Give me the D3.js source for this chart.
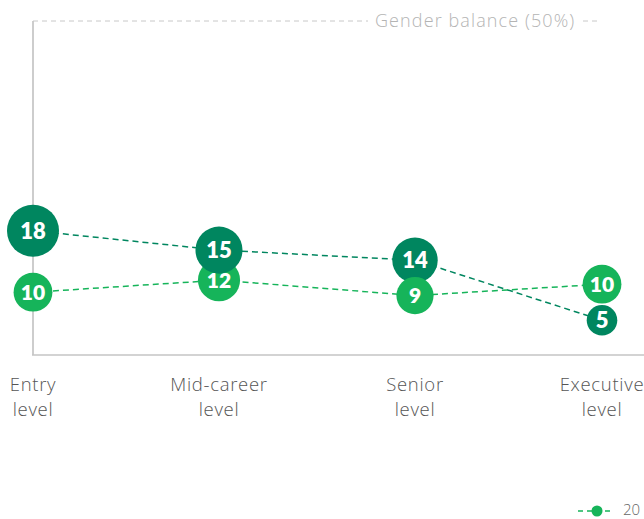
<!DOCTYPE html>
<html>
<head>
<meta charset="utf-8">
<script src="https://cdn.jsdelivr.net/npm/d3@7/dist/d3.min.js"></script>
<style>
  html, body { margin: 0; padding: 0; background: #fff; }
  svg { display: block; }
</style>
</head>
<body>
<svg id="chart" width="644" height="519"></svg>
<script>
// ---- data ----
const categories = ["Entry level", "Mid-career level", "Senior level", "Executive level"];
const darkPlotted = [18.6, 15.7, 14.2, 5.2];
const darkLabels = [18, 15, 14, 5];
const lightPlotted = [9.4, 11.2, 8.9, 10.6];
const lightLabels = [10, 12, 9, 10];
const balanceValue = 50;
const balanceLabel = "Gender balance (50%)";
const legendLabel = "20";

// ---- styles ----
const darkColor = "#00865f";
const lightColor = "#16b45a";
const front = ["dark", "dark", "light", "light"];

const svg = d3.select("#chart");
const x = d3.scaleOrdinal().domain(categories).range([33, 219, 415, 602]);
const y = d3.scaleLinear().domain([0, 50]).range([355, 21]);
const r = d3.scaleLinear().domain([5, 18]).range([15.3, 26]);

// axes lines
svg.append("line").attr("x1", 33).attr("x2", 33).attr("y1", y(balanceValue)).attr("y2", y(0))
  .attr("stroke", "#bdbdbd").attr("stroke-width", 1.5);
svg.append("line").attr("x1", 32).attr("x2", 644).attr("y1", y(0)).attr("y2", y(0))
  .attr("stroke", "#c4c4c4").attr("stroke-width", 1.5);

// gender balance line
svg.append("line").attr("x1", 33).attr("x2", 368).attr("y1", y(balanceValue)).attr("y2", y(balanceValue))
  .attr("stroke", "#c8c8c8").attr("stroke-width", 1).attr("stroke-dasharray", "5,4");
svg.append("line").attr("x1", 583).attr("x2", 600).attr("y1", y(balanceValue)).attr("y2", y(balanceValue))
  .attr("stroke", "#c8c8c8").attr("stroke-width", 1).attr("stroke-dasharray", "5,4");
svg.append("text").attr("x", 375).attr("y", y(balanceValue) + 6)
  .attr("font-family", "Open Sans, sans-serif").attr("font-size", 18).attr("font-weight", 300)
  .attr("letter-spacing", 1.1)
  .attr("fill", "#b4b4b4").text(balanceLabel);

// category labels
const catG = svg.append("g");
categories.forEach(c => {
  const parts = c.split(" ");
  const line1 = parts.slice(0, parts.length - 1).join(" ");
  const line2 = parts[parts.length - 1];
  const t = catG.append("text").attr("text-anchor", "middle")
    .attr("font-family", "Open Sans, sans-serif").attr("font-size", 18.5).attr("font-weight", 300)
    .attr("letter-spacing", 0.7)
    .attr("fill", "#555");
  t.append("tspan").attr("x", x(c)).attr("y", 391).text(line1);
  t.append("tspan").attr("x", x(c)).attr("y", 416).text(line2);
});

const series = [
  { key: "dark", plotted: darkPlotted, labels: darkLabels, color: darkColor },
  { key: "light", plotted: lightPlotted, labels: lightLabels, color: lightColor }
];

const line = d3.line().x((d, i) => x(categories[i])).y(d => y(d));
series.forEach(s => {
  svg.append("path").datum(s.plotted).attr("d", line)
    .attr("fill", "none").attr("stroke", s.color).attr("stroke-width", 1.5)
    .attr("stroke-dasharray", "6,4");
});

// points
const points = [];
series.forEach(s => s.plotted.forEach((v, i) => points.push({
  key: s.key, cat: categories[i], i, v, label: s.labels[i], color: s.color
})));
points.sort((a, b) => (front[a.i] === a.key ? 1 : 0) - (front[b.i] === b.key ? 1 : 0));

const pg = svg.selectAll("g.pt").data(points).join("g").attr("class", "pt")
  .attr("transform", d => `translate(${x(d.cat)},${y(d.v)})`);
pg.append("circle").attr("r", d => r(d.label)).attr("fill", d => d.color);
pg.append("text").attr("text-anchor", "middle").attr("dy", "0.36em")
  .attr("font-family", "Lato, sans-serif").attr("font-weight", 800)
  .attr("font-size", d => d.key === "dark" ? 22 : 21)
  .attr("fill", "#fff").text(d => d.label);

// legend
const lg = svg.append("g");
lg.append("line").attr("x1", 578).attr("x2", 613).attr("y1", 511).attr("y2", 511)
  .attr("stroke", lightColor).attr("stroke-width", 1.5).attr("stroke-dasharray", "5,4");
lg.append("circle").attr("cx", 597).attr("cy", 511).attr("r", 5.5).attr("fill", lightColor);
lg.append("text").attr("x", 623).attr("y", 515)
  .attr("font-family", "Open Sans, sans-serif").attr("font-size", 15).attr("font-weight", 300)
  .attr("fill", "#666").text(legendLabel);
</script>
</body>
</html>
